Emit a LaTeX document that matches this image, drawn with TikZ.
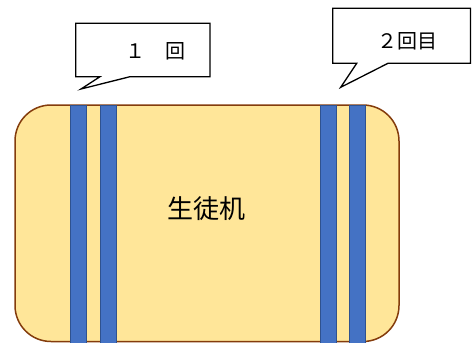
\documentclass[tikz,border=0pt]{standalone}
\usepackage{fontspec}
\newfontfamily\cjk{Noto Sans CJK JP}
\definecolor{padfill}{HTML}{FFE699}
\definecolor{padline}{HTML}{843C0C}
\definecolor{stripefill}{HTML}{4472C4}
\definecolor{stripeline}{HTML}{2F528F}
\tikzset{
  pad/.style={fill=padfill,draw=padline,line width=1.5pt,rounded corners=36pt},
  stripe/.style={fill=stripefill,draw=stripeline,line width=0.9pt},
  callout/.style={fill=white,draw=black,line width=1.3pt,line join=miter},
  lbl/.style={font=\cjk\fontsize{20}{23}\selectfont,text=black,inner sep=0pt}
}
\begin{document}
\begin{tikzpicture}[x=1pt,y=-1pt]
\useasboundingbox (0,0) rectangle (472,343);
% main pad
\draw[pad] (15,105) rectangle (399,341.5);
% stripes
\draw[stripe] (70.7,105) rectangle (86.7,343);
\draw[stripe] (100.7,105) rectangle (116.7,343);
\draw[stripe] (320.7,105) rectangle (336.7,343);
\draw[stripe] (349,105) rectangle (365,343);
\node[font=\cjk\fontsize{26}{30}\selectfont,inner sep=0pt] (pad) at (206.5,209) {生徒机};
% callout 1
\draw[callout] (75.7,23.3) -- (210,23.3) -- (210,76.7) -- (130,76.7) -- (81,89) -- (100,76.7) -- (75.7,76.7) -- cycle;
\node[lbl] (c1) at (155,51) {１　回};
% callout 2
\draw[callout] (332.7,8.3) -- (470.5,8.3) -- (470.5,63.3) -- (388,63.3) -- (340.7,87.3) -- (356.7,63.3) -- (332.7,63.3) -- cycle;
\node[lbl] (c2) at (407.5,41) {２回目};
\end{tikzpicture}
\end{document}
